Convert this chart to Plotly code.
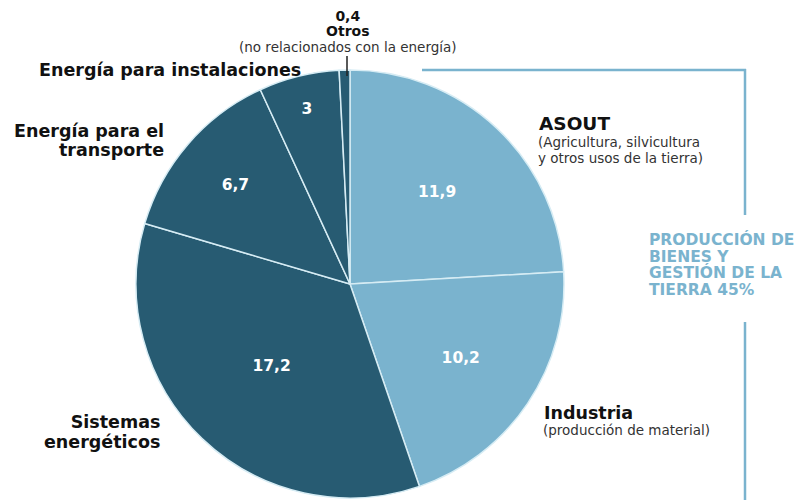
import plotly.graph_objects as go

# ---- data ----
categories = ["ASOUT", "Industria", "Sistemas energéticos", "Energía para el transporte",
              "Energía para instalaciones", "Otros"]
values = [11.9, 10.2, 17.2, 6.7, 3.0, 0.4]
value_labels = ["11,9", "10,2", "17,2", "6,7", "3", ""]
colors = ["#7ab3ce", "#7ab3ce", "#275b72", "#275b72", "#275b72", "#275b72"]

# page has an 8px body margin; work in screenshot pixels
OFF = 8
W, H = 805 - OFF, 500 - OFF
def px(x):
    return (x - OFF) / W
def py(y):
    return 1 - (y - OFF) / H

cx, cy, r = 350, 284, 214
FAM = "DejaVu Sans"

fig = go.Figure(go.Pie(
    labels=categories,
    values=values,
    text=value_labels,
    textinfo="text",
    textposition="inside",
    insidetextorientation="horizontal",
    sort=False,
    direction="clockwise",
    rotation=0,
    marker=dict(colors=colors, line=dict(color="#d6ecf4", width=1.5)),
    textfont=dict(family=FAM, size=15.5, color="white", weight="bold"),
    domain=dict(x=[px(cx - r), px(cx + r)], y=[py(cy + r), py(cy - r)]),
    showlegend=False,
    hoverinfo="label+value",
))

ann = []
def add(text, x, y, size, color="#111111", xanchor="left"):
    ann.append(dict(text=text, x=px(x), y=py(y), xref="paper", yref="paper",
                    xanchor=xanchor, yanchor="middle", showarrow=False,
                    font=dict(family=FAM, size=size, color=color),
                    align=xanchor))

def b(t, s, color="#111111"):
    return f"<span style='font-size:{s}px;font-weight:bold;color:{color}'>{t}</span>"

def rg(t, s):
    return f"<span style='font-size:{s}px;color:#333333'>{t}</span>"

add(b("0,4", 14) + "<br>" + b("Otros", 14) + "<br>" + rg("(no relacionados con la energía)", 13.5),
    348, 31, 11.8, xanchor="center")
add(b("Energía para instalaciones", 17.5), 303, 70, 13, xanchor="right")
add(b("Energía para el", 17.5) + "<br>" + b("transporte", 17.5), 166, 141, 14.8, xanchor="right")
add(b("ASOUT", 18.5), 537, 123, 14, xanchor="left")
add(rg("(Agricultura, silvicultura", 13.5) + "<br>" + rg("y otros usos de la tierra)", 13.5),
    536, 150, 12.4, xanchor="left")
add(b("Industria", 17.5), 542, 413, 13, xanchor="left")
add(rg("(producción de material)", 13.5), 541, 430, 12, xanchor="left")
add(b("Sistemas", 17.5) + "<br>" + b("energéticos", 17.5), 162, 432, 15.4, xanchor="right")
blue = "#7ab3ce"
add("<br>".join(b(t, 15.5, blue) for t in ["PRODUCCIÓN DE", "BIENES Y", "GESTIÓN DE LA", "TIERRA 45%"]),
    647, 264, 12.8, color=blue, xanchor="left")

shapes = [
    dict(type="line", xref="paper", yref="paper", x0=px(422), x1=px(746), y0=py(70), y1=py(70),
         line=dict(color=blue, width=2.5)),
    dict(type="line", xref="paper", yref="paper", x0=px(745), x1=px(745), y0=py(69), y1=py(215),
         line=dict(color=blue, width=2.5)),
    dict(type="line", xref="paper", yref="paper", x0=px(745), x1=px(745), y0=py(322), y1=py(500),
         line=dict(color=blue, width=2.5)),
    dict(type="line", xref="paper", yref="paper", x0=px(347), x1=px(347), y0=py(56), y1=py(76),
         line=dict(color="#222222", width=1.5)),
]

fig.update_layout(
    width=W, height=H,
    margin=dict(l=0, r=0, t=0, b=0),
    paper_bgcolor="white",
    plot_bgcolor="white",
    annotations=ann,
    shapes=shapes,
)

fig.write_html("out.html")
